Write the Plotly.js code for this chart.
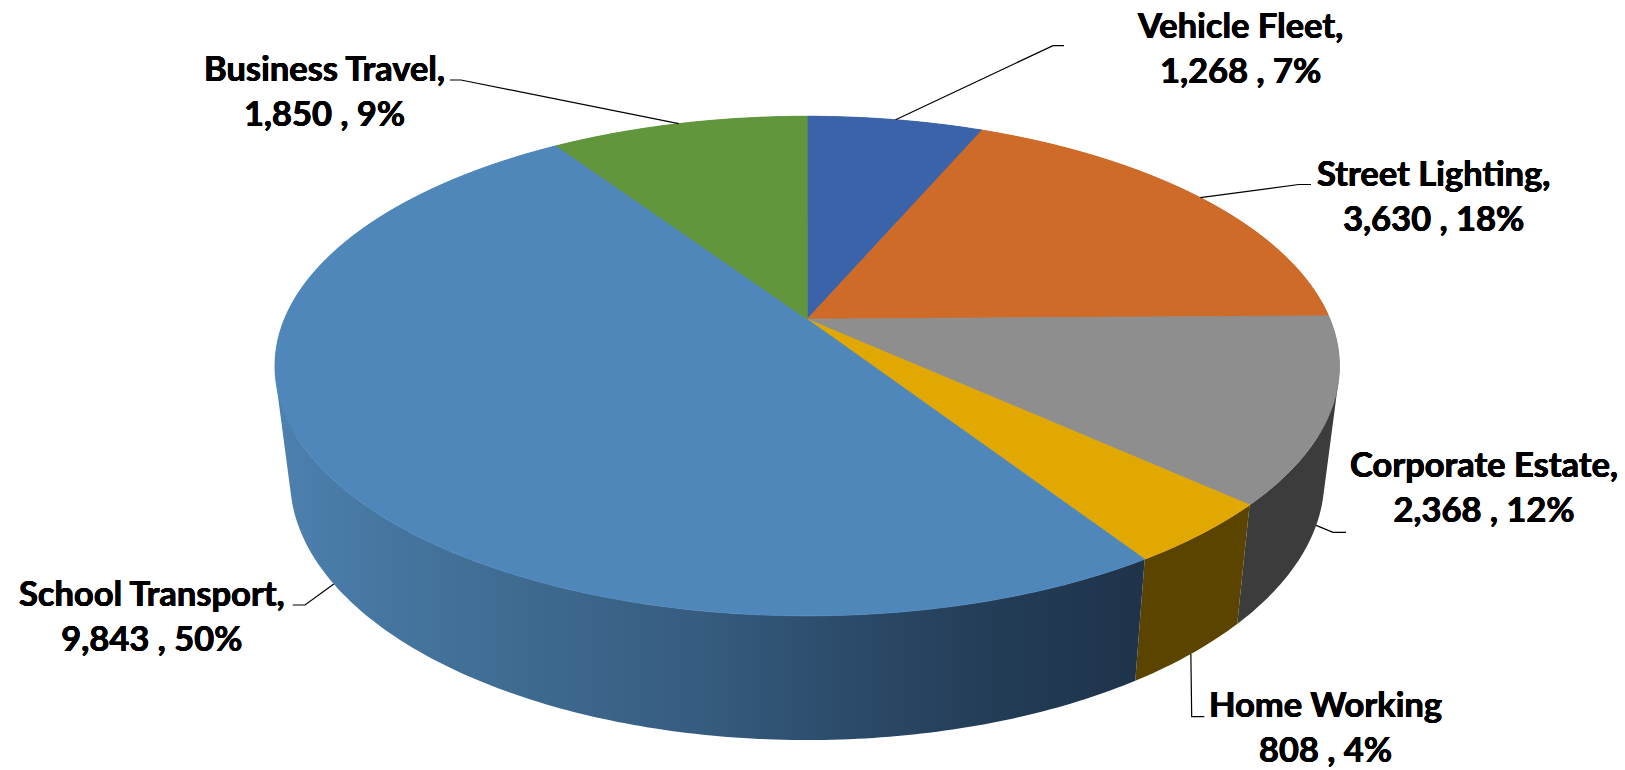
<!DOCTYPE html>
<html>
<head>
<meta charset="utf-8">
<script src="https://cdn.plot.ly/plotly-3.0.1.min.js"></script>
<style>html,body{margin:0;padding:0;background:#fff;overflow:hidden}#chart{width:1625px;height:770px}</style>
</head>
<body>
<div id="chart"></div>
<script>
// Data
const categories = ['Vehicle Fleet', 'Street Lighting', 'Corporate Estate', 'Home Working', 'School Transport', 'Business Travel'];
const values = [1268, 3630, 2368, 808, 9843, 1850];
const percentLabels = ['7%', '18%', '12%', '4%', '50%', '9%'];
const categorySuffix = [',', ',', ',', '', ',', ','];

// Styles
const topColors = ['#3B63A9', '#CF6B28', '#8E8E8E', '#E0A800', '#4F87BB', '#62963C'];
const sideColors = ['#24395F', '#7C4018', '#3C3C3C', '#5B4400', '#2F5070', '#3B5A24'];
const schoolSideStops = [[0, '#4C80AE'], [0.2, '#427097'], [0.49, '#365C80'], [0.66, '#2C4B6A'], [0.84, '#233C56'], [1, '#1F344B']];

// Perspective model of the two pie discs, in page pixels
const topDisc = {cx: 807.2, cy: 319.2, a: 522.8, b: 241, k: 0.1875};
const baseDisc = {cx: 807.2, cy: 429.7, a: 508, b: 252, k: 0.188};
function project(d, deg) {
  const t = deg * Math.PI / 180, s = Math.sin(t), c = Math.cos(t), w = 1 + d.k * c;
  return [d.cx + d.a * s / w, d.cy - d.b * c / w];
}

// Label placement, in page pixels: centre, then leader elbow and end
const labelLayout = [
  {x: 1240, y: 47, elbow: [1053, 45.6], end: [1064, 45.6], disc: topDisc},
  {x: 1433, y: 195, elbow: [1298.6, 184.5], end: [1311, 184.5], disc: topDisc},
  {x: 1484, y: 485.5, elbow: [1333, 532.3], end: [1346, 532.3], disc: baseDisc},
  {x: 1325, y: 726, elbow: [1191.7, 716.7], end: [1204.3, 716.7], disc: baseDisc},
  {x: 152, y: 615, elbow: [305, 605], end: [292.7, 605], disc: baseDisc},
  {x: 324, y: 89.5, elbow: [461, 80], end: [450, 80], disc: topDisc}
];
const FONT = 'Lato, Carlito, Calibri, sans-serif';
const FONT_SIZE = 34.5;
const FONT_THICKEN = '0.4px 0 0 #000, -0.4px 0 0 #000, 0 0.3px 0 #000';

const total = values.reduce((p, v) => p + v, 0);
const angles = [0];
values.forEach(v => angles.push(angles[angles.length - 1] + v / total * 360));

function sideTrace(i) {
  const xs = [], ys = [];
  const a0 = angles[i], a1 = angles[i + 1], n = Math.ceil((a1 - a0) / 0.75);
  for (let j = 0; j < n; j++) {
    const u0 = a0 + (a1 - a0) * j / n, u1 = a0 + (a1 - a0) * (j + 1) / n;
    let q = [project(topDisc, u0), project(topDisc, u1), project(baseDisc, u1), project(baseDisc, u0)];
    let area = 0;
    q.forEach((p, m) => { const r = q[(m + 1) % 4]; area += p[0] * r[1] - r[0] * p[1]; });
    if (area < 0) q = q.slice().reverse();
    q.forEach(p => { xs.push(p[0]); ys.push(p[1]); });
    xs.push(q[0][0]); ys.push(q[0][1]);
    xs.push(null); ys.push(null);
  }
  const t = {x: xs, y: ys, mode: 'lines', line: {width: 0, simplify: false}, fill: 'toself',
    fillcolor: sideColors[i], hoverinfo: 'skip', showlegend: false, connectgaps: false};
  if (categories[i] === 'School Transport') {
    t.fillgradient = {type: 'horizontal', colorscale: schoolSideStops, start: 283, stop: 1135};
  }
  return t;
}
function topTrace(i) {
  const xs = [topDisc.cx], ys = [topDisc.cy];
  const a0 = angles[i], a1 = angles[i + 1], n = Math.ceil((a1 - a0) * 2);
  for (let j = 0; j <= n; j++) {
    const p = project(topDisc, a0 + (a1 - a0) * j / n);
    xs.push(p[0]); ys.push(p[1]);
  }
  xs.push(topDisc.cx); ys.push(topDisc.cy);
  return {x: xs, y: ys, mode: 'lines', line: {width: 0.8, color: topColors[i], simplify: false}, fill: 'toself',
    fillcolor: topColors[i], hoverinfo: 'skip', showlegend: false, name: categories[i]};
}

// Back sides first, front sides after, then the top faces
const sideOrder = [0, 5, 1, 2, 3, 4];
const traces = sideOrder.map(sideTrace).concat(categories.map((c, i) => topTrace(i)));

const shapes = labelLayout.map((l, i) => {
  const p = project(l.disc, (angles[i] + angles[i + 1]) / 2);
  return {type: 'path', xref: 'x', yref: 'y', layer: 'above',
    path: `M${p[0]},${p[1]} L${l.elbow[0]},${l.elbow[1]} L${l.end[0]},${l.end[1]}`,
    line: {color: '#000', width: 1.2}};
});
const annotations = labelLayout.map((l, i) => ({
  x: l.x, y: l.y, xref: 'x', yref: 'y', xanchor: 'center', yanchor: 'middle', showarrow: false, align: 'center',
  text: `<b>${categories[i]}${categorySuffix[i]}<br>${values[i].toLocaleString('en-US')} , ${percentLabels[i]}</b>`,
  font: {family: FONT, size: FONT_SIZE, color: '#000', shadow: FONT_THICKEN}
}));

Plotly.newPlot('chart', traces, {
  width: 1625, height: 770,
  margin: {l: 0, r: 0, t: 0, b: 0},
  paper_bgcolor: '#fff', plot_bgcolor: '#fff',
  showlegend: false, hovermode: false,
  xaxis: {range: [0, 1625], visible: false, fixedrange: true},
  yaxis: {range: [770, 0], visible: false, fixedrange: true},
  shapes, annotations
}, {displayModeBar: false, staticPlot: true});
</script>
</body>
</html>
